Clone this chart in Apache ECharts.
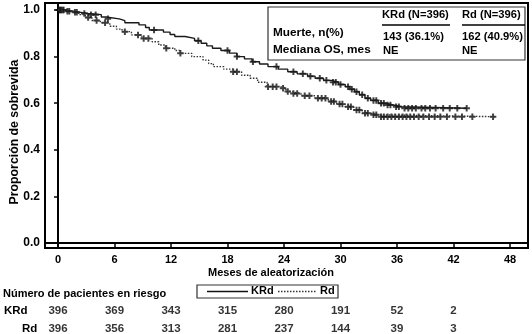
<!DOCTYPE html>
<html><head><meta charset="utf-8">
<script src="https://cdn.jsdelivr.net/npm/echarts@6/dist/echarts.min.js"></script>
<style>html,body{margin:0;padding:0;background:#fff}#c{width:532px;height:334px}</style>
</head><body><div id="c"></div>
<script>
// ---- Data ----
const xTicks = [0, 6, 12, 18, 24, 30, 36, 42, 48];
const yTicks = [0, 0.2, 0.4, 0.6, 0.8, 1.0];

// Kaplan-Meier steps [month, survival]
const krdSteps = [[0,1.0],[0.8,0.995],[1.6,0.99],[2.4,0.985],[3.2,0.98],[4.6,0.97],[5.1,0.962],[6.5,0.954],[7.1,0.945],[8.6,0.936],[9.3,0.925],[9.7,0.914],[11.2,0.905],[11.9,0.895],[12.4,0.886],[13.5,0.878],[14.5,0.868],[15.2,0.857],[15.8,0.846],[16.4,0.836],[17.3,0.826],[18.2,0.815],[19.0,0.80],[19.8,0.79],[20.6,0.778],[21.4,0.768],[22.3,0.757],[23.4,0.746],[24.4,0.735],[25.4,0.726],[26.5,0.716],[27.3,0.707],[28.2,0.698],[29.0,0.69],[29.8,0.68],[30.5,0.671],[31.0,0.66],[31.5,0.649],[32.0,0.636],[32.6,0.621],[33.2,0.612],[34.0,0.60],[34.8,0.592],[35.6,0.585],[36.5,0.578],[43.4,0.578]];
const rdSteps = [[0,1.0],[0.6,0.995],[1.4,0.99],[2.2,0.98],[2.9,0.968],[3.6,0.955],[4.5,0.945],[5.5,0.93],[6.2,0.918],[6.8,0.907],[7.8,0.893],[8.9,0.878],[10.0,0.864],[10.7,0.85],[11.4,0.836],[12.4,0.826],[13.0,0.814],[14.2,0.80],[15.4,0.785],[16.0,0.77],[16.5,0.757],[17.6,0.746],[18.6,0.735],[19.5,0.72],[20.4,0.707],[21.2,0.69],[22.2,0.671],[23.6,0.664],[24.2,0.65],[24.6,0.642],[25.8,0.632],[27.3,0.621],[28.7,0.607],[29.6,0.596],[30.5,0.585],[31.4,0.571],[32.3,0.557],[33.2,0.55],[34.0,0.542],[46.4,0.542]];

// Censored observations [month, survival]
const krdCensor = [[0.1,1],[0.3,1],[0.6,1],[1.2,0.995],[2.0,0.99],[2.8,0.985],[3.5,0.98],[4.0,0.98],[5.3,0.962],[10.2,0.914],[14.9,0.868],[18.0,0.826],[19.0,0.80],[20.7,0.778],[23.2,0.757],[25.0,0.735],[26.0,0.726],[26.8,0.716],[27.8,0.707],[28.5,0.698],[29.2,0.69],[29.5,0.69],[30.0,0.68],[30.8,0.671],[31.2,0.66],[31.7,0.649],[32.3,0.636],[32.9,0.621],[33.5,0.612],[33.8,0.612],[34.3,0.60],[34.6,0.60],[35.0,0.592],[35.3,0.592],[35.9,0.585],[36.2,0.585],[36.8,0.578],[37.2,0.578],[37.6,0.578],[38.0,0.578],[38.6,0.578],[39.0,0.578],[39.5,0.578],[40.1,0.578],[40.9,0.578],[41.6,0.578],[42.4,0.578],[43.4,0.578]];
const rdCensor = [[0.1,1],[0.3,1],[0.5,1],[1.0,0.995],[1.8,0.99],[3.2,0.968],[4.1,0.955],[5.0,0.945],[7.1,0.907],[8.5,0.893],[9.1,0.878],[9.6,0.878],[11.5,0.836],[13.0,0.814],[18.6,0.735],[19.0,0.735],[22.3,0.671],[22.8,0.671],[23.2,0.671],[23.9,0.664],[24.4,0.65],[25.0,0.642],[25.4,0.642],[26.2,0.632],[26.7,0.632],[27.6,0.621],[28.0,0.621],[28.4,0.621],[29.0,0.607],[29.3,0.607],[29.9,0.596],[30.2,0.596],[30.8,0.585],[31.1,0.585],[31.7,0.571],[32.0,0.571],[32.6,0.557],[32.9,0.557],[33.5,0.55],[33.8,0.55],[34.3,0.542],[34.6,0.542],[35.0,0.542],[35.4,0.542],[35.8,0.542],[36.2,0.542],[36.6,0.542],[37.0,0.542],[37.4,0.542],[37.8,0.542],[38.3,0.542],[38.8,0.542],[39.4,0.542],[40.0,0.542],[40.6,0.542],[41.3,0.542],[42.2,0.542],[42.9,0.542],[44.0,0.542],[46.2,0.542]];

// Number at risk
const riskMonths = [0, 6, 12, 18, 24, 30, 36, 42];
const riskKRd = [396, 369, 343, 315, 280, 191, 52, 2];
const riskRd  = [396, 356, 313, 281, 237, 144, 39, 3];
const riskRows = ['KRd', 'Rd'];

// ---- Chart ----
const FF = '"Liberation Sans", Arial, sans-serif';
const chart = echarts.init(document.getElementById('c'), null, {renderer: 'canvas'});
const plus = 'path://M3.5,0H6.5V3.5H10V6.5H6.5V10H3.5V6.5H0V3.5H3.5Z';

const riskData = [];
riskMonths.forEach((m, i) => {
  riskData.push([m, riskRows[0], riskKRd[i]]);
  riskData.push([m, riskRows[1], riskRd[i]]);
});

const txt = (x, y, text, font, z) => ({
  type: 'text', left: x, top: y, z: z || 1,
  style: {text: text, fill: '#000', font: 'bold ' + (font || 12) + 'px ' + FF}
});

chart.setOption({
  animation: false,
  backgroundColor: '#fff',
  grid: [
    {left: 45, right: 4, top: 3, bottom: 86, containLabel: false, outerBoundsMode: 'none'},
    {left: 58, right: 22, top: 302, height: 36, containLabel: false, outerBoundsMode: 'none'}
  ],
  xAxis: [
    {type: 'value', gridIndex: 0, min: -1.38, max: 49.91,
     axisLine: {show: true, lineStyle: {color: '#000', width: 2}}, splitLine: {show: false},
     axisTick: {length: 4, customValues: xTicks, lineStyle: {color: '#000', width: 1.5}},
     axisLabel: {customValues: xTicks, color: '#000', fontFamily: FF, fontWeight: 'bold', fontSize: 11, margin: 6}},
    {type: 'value', gridIndex: 1, min: 0, max: 48, show: false}
  ],
  yAxis: [
    {type: 'value', gridIndex: 0, min: -0.0215, max: 1.030,
     axisLine: {show: true, lineStyle: {color: '#000', width: 2}}, splitLine: {show: false},
     axisTick: {show: true, length: 4, customValues: yTicks, lineStyle: {color: '#000', width: 1.5}},
     axisLabel: {customValues: yTicks, color: '#000', fontFamily: FF, fontWeight: 'bold', fontSize: 12, margin: 5,
                 align: 'right', formatter: v => v.toFixed(1)}},
    {type: 'category', gridIndex: 1, data: riskRows, inverse: true, show: false}
  ],
  series: [
    {type: 'line', name: 'KRd', data: krdSteps, step: 'end', showSymbol: false, symbol: 'none',
     lineStyle: {color: '#1a1a1a', width: 1.4}, xAxisIndex: 0, yAxisIndex: 0},
    {type: 'line', name: 'Rd', data: rdSteps, step: 'end', showSymbol: false, symbol: 'none',
     lineStyle: {color: '#333', width: 1.4, type: [1.5, 1.5]}, xAxisIndex: 0, yAxisIndex: 0},
    {type: 'scatter', data: krdCensor, symbol: plus, symbolSize: 6.5,
     itemStyle: {color: '#111'}, xAxisIndex: 0, yAxisIndex: 0},
    {type: 'scatter', data: rdCensor, symbol: plus, symbolSize: 6.5,
     itemStyle: {color: '#111'}, xAxisIndex: 0, yAxisIndex: 0},
    {type: 'scatter', data: riskData, xAxisIndex: 1, yAxisIndex: 1, symbolSize: 1,
     itemStyle: {color: 'rgba(0,0,0,0)'}, silent: true,
     label: {show: true, position: 'inside', formatter: p => String(p.value[2]),
             color: '#000', fontFamily: FF, fontWeight: 'bold', fontSize: 11.5}}
  ],
  graphic: [
    // y axis title
    {type: 'text', x: 15, y: 132, rotation: Math.PI / 2,
     style: {text: 'Proporción de sobrevida', fill: '#000', font: 'bold 12.3px ' + FF, align: 'center', verticalAlign: 'middle'}},
    // plot frame (top/right)
    {type: 'rect', shape: {x: 45, y: 3, width: 483, height: 245},
     style: {fill: 'none', stroke: '#000', lineWidth: 2}, z: 10},
    // in-plot summary box
    {type: 'rect', shape: {x: 268, y: 7, width: 257, height: 53},
     style: {fill: '#fff', stroke: '#333', lineWidth: 1.2}, z: 5},
    txt(382, 9, 'KRd (N=396)', 11.2, 6),
    txt(462, 9, 'Rd (N=396)', 11.2, 6),
    {type: 'line', z: 6, shape: {x1: 382, y1: 25, x2: 450, y2: 25}, style: {stroke: '#000', lineWidth: 1.5}},
    {type: 'line', z: 6, shape: {x1: 462, y1: 25, x2: 525, y2: 25}, style: {stroke: '#000', lineWidth: 1.5}},
    txt(273, 27, 'Muerte, n(%)', 11.8, 6),
    txt(273, 44, 'Mediana OS, mes', 11.8, 6),
    txt(383, 31, '143 (36.1%)', 11.2, 6),
    txt(462, 31, '162 (40.9%)', 11.2, 6),
    txt(383, 45, 'NE', 11.2, 6),
    txt(462, 45, 'NE', 11.2, 6),
    // x axis title
    txt(208, 267, 'Meses de aleatorización', 11),
    // bottom legend
    {type: 'rect', shape: {x: 197, y: 285, width: 141, height: 13}, style: {fill: 'none', stroke: '#333', lineWidth: 1.2}},
    {type: 'line', shape: {x1: 207, y1: 291.5, x2: 248, y2: 291.5}, style: {stroke: '#111', lineWidth: 1.3}},
    txt(251, 285, 'KRd', 11),
    {type: 'line', shape: {x1: 278, y1: 291.5, x2: 316, y2: 291.5}, style: {stroke: '#333', lineWidth: 1.3, lineDash: [1.5, 1.5]}},
    txt(320, 285, 'Rd', 11),
    // risk table labels
    txt(3, 288, 'Número de pacientes en riesgo', 11),
    txt(4, 305, 'KRd', 11.5),
    txt(22, 323, 'Rd', 11.5)
  ]
});
</script></body></html>
